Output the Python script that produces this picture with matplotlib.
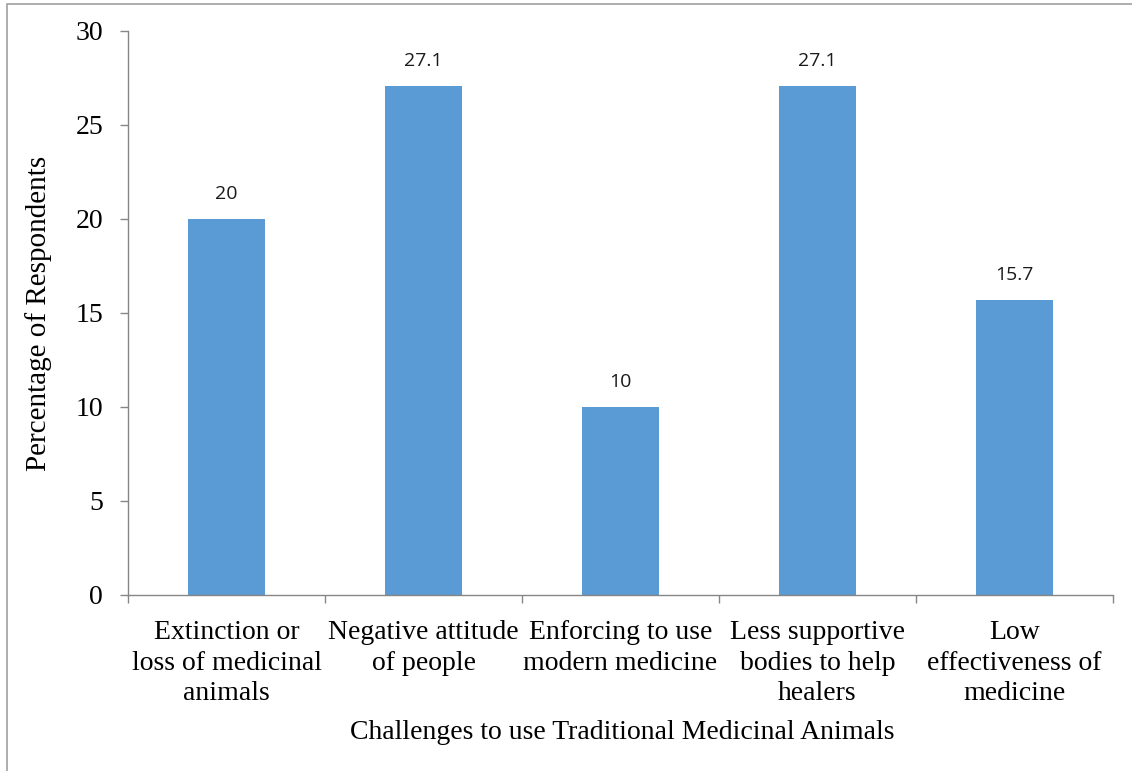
import matplotlib
matplotlib.use("Agg")
from matplotlib import pyplot as plt
from matplotlib.patches import Rectangle
import numpy as np

categories = ["Extinction or\nloss of medicinal\nanimals",
              "Negative attitude\nof people",
              "Enforcing to use\nmodern medicine",
              "Less supportive\nbodies to help\nhealers",
              "Low\neffectiveness of\nmedicine"]
values = [20, 27.1, 10, 27.1, 15.7]
value_labels = ["20", "27.1", "10", "27.1", "15.7"]
y_ticks = [0, 5, 10, 15, 20, 25, 30]

serif = "Liberation Serif"
axis_grey = "#868686"

fig = plt.figure(figsize=(11.32, 7.71), dpi=100)
ax = fig.add_axes([0.1131, 0.2283, 0.8701, 0.7315])

x = np.arange(len(values))
ax.bar(x, values, width=0.39, color="#5B9BD5", zorder=2)

for xi, v, lab in zip(x, values, value_labels):
    ax.annotate(lab, (xi, v), xytext=(0, 18), textcoords="offset points",
                ha="center", va="center", fontsize=14,
                family="Open Sans", color="#1a1a1a")

ax.set_xlim(-0.5, len(values) - 0.5)
ax.set_ylim(0, 30)
ax.set_yticks(y_ticks)
ax.set_yticklabels([str(t) for t in y_ticks], family=serif, fontsize=20)

# category labels sit between boundary ticks
ax.set_xticks(x)
ax.set_xticklabels(categories, family=serif, fontsize=20, linespacing=1.3)
ax.tick_params(axis="x", length=0, pad=18)
ax.set_xticks(np.arange(len(values) + 1) - 0.5, minor=True)
ax.tick_params(axis="x", which="minor", length=6, color=axis_grey, width=1)
ax.tick_params(axis="y", length=6, color=axis_grey, width=1, pad=12)

for side in ["top", "right"]:
    ax.spines[side].set_visible(False)
for side in ["left", "bottom"]:
    ax.spines[side].set_color(axis_grey)
    ax.spines[side].set_linewidth(1)

ax.set_ylabel("Percentage of Respondents", family=serif, fontsize=21, labelpad=17)
fig.text(0.5494, 0.050, "Challenges to use Traditional Medicinal Animals",
         family=serif, fontsize=20, ha="center", va="center")

# thin frame round the chart area
fig.add_artist(Rectangle((7 / 1132, -0.01), 1.1, 1 - 4 / 771 + 0.01,
                         transform=fig.transFigure, fill=False,
                         edgecolor="#a0a0a0", linewidth=1.2))

fig.savefig("out.png", dpi=100)
